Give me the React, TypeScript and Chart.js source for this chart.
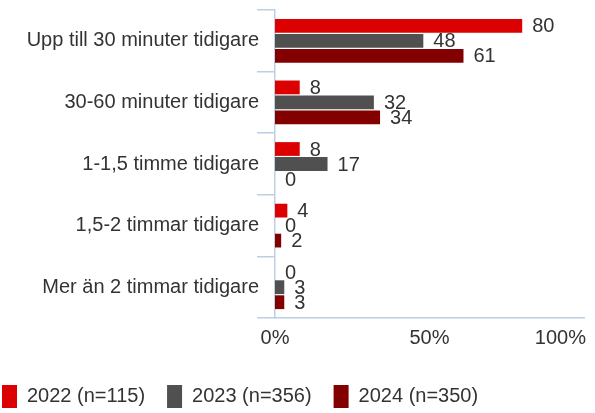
import React, { useEffect, useRef } from "react";
import { Chart, registerables } from "chart.js";

Chart.register(...registerables);

const categories = [
  "Upp till 30 minuter tidigare",
  "30-60 minuter tidigare",
  "1-1,5 timme tidigare",
  "1,5-2 timmar tidigare",
  "Mer än 2 timmar tidigare",
];
const seriesNames = ["2022 (n=115)", "2023 (n=356)", "2024 (n=350)"];
const values2022 = [80, 8, 8, 4, 0];
const values2023 = [48, 32, 17, 0, 3];
const values2024 = [61, 34, 0, 2, 3];
const xTicks = [0, 50, 100];

const FONT = "'Liberation Sans', Arial, sans-serif";
const TEXT = "#333333";
const AXIS = "#BCCFE3";

const valueLabels = {
  id: "valueLabels",
  afterDatasetsDraw(chart: any) {
    const ctx = chart.ctx;
    ctx.save();
    ctx.font = `20px ${FONT}`;
    ctx.fillStyle = TEXT;
    ctx.textAlign = "left";
    ctx.textBaseline = "middle";
    chart.data.datasets.forEach((ds: any, di: number) => {
      const meta = chart.getDatasetMeta(di);
      meta.data.forEach((el: any, i: number) => {
        ctx.fillText(String(ds.data[i]), el.x + 10, el.y + 1);
      });
    });
    ctx.restore();
  },
};

const xLabels = {
  id: "xLabels",
  afterDraw(chart: any) {
    const ctx = chart.ctx;
    const sc = chart.scales.x;
    ctx.save();
    ctx.font = `20px ${FONT}`;
    ctx.fillStyle = TEXT;
    ctx.textBaseline = "middle";
    xTicks.forEach((v) => {
      const t = v + "%";
      const px = sc.getPixelForValue(v);
      const w = ctx.measureText(t).width;
      const maxRight = chart.width - 9;
      if (px + w / 2 > maxRight) {
        ctx.textAlign = "right";
        ctx.fillText(t, maxRight, sc.bottom - sc.height + 20);
      } else {
        ctx.textAlign = "center";
        ctx.fillText(t, px, sc.top + 20);
      }
    });
    ctx.restore();
  },
};

const legendShift = {
  id: "legendShift",
  afterLayout(chart: any) {
    const l = chart.legend;
    if (l) {
      l.left = l.left - 20;
      l.top = 363;
      l.bottom = l.top + l.height;
    }
  },
};

export default function App() {
  const ref = useRef<HTMLCanvasElement>(null);
  useEffect(() => {
    if (!ref.current) return;
    const chart = new Chart(ref.current, {
      type: "bar",
      data: {
        labels: categories,
        datasets: [
          { label: seriesNames[0], data: values2022, backgroundColor: "#DD0000", borderWidth: 0 },
          { label: seriesNames[1], data: values2023, backgroundColor: "#505050", borderWidth: 0 },
          { label: seriesNames[2], data: values2024, backgroundColor: "#820000", borderWidth: 0 },
        ],
      },
      options: {
        indexAxis: "y",
        responsive: false,
        animation: false,
        datasets: { bar: { categoryPercentage: 0.73, barPercentage: 0.92 } },
        layout: { padding: { top: 8, right: 11, bottom: 0, left: 0 } },
        plugins: {
          tooltip: { enabled: false },
          legend: {
            position: "bottom",
            align: "start",
            labels: {
              boxWidth: 15,
              boxHeight: 23,
              padding: 22,
              color: TEXT,
              font: { family: FONT, size: 20 },
            },
          },
        },
        scales: {
          x: {
            min: 0,
            max: 100,
            grid: { display: false },
            border: { display: true, color: AXIS, width: 1.5 },
            ticks: { display: false, stepSize: 50 },
            afterFit(scale: any) {
              const lh = scale.chart.legend ? scale.chart.legend.height : 55;
              scale.height = 413 - 318 - lh;
            },
          },
          y: {
            grid: {
              display: true,
              drawOnChartArea: false,
              offset: true,
              color: AXIS,
              lineWidth: 1.5,
              tickLength: 18,
            },
            border: { display: true, color: AXIS, width: 1.5 },
            ticks: {
              color: TEXT,
              padding: -2,
              font: { family: FONT, size: 20 },
            },
            afterFit(scale: any) {
              scale.width = 275;
            },
          },
        },
      } as any,
      plugins: [valueLabels, xLabels, legendShift],
    });
    return () => chart.destroy();
  }, []);
  return (
    <canvas
      ref={ref}
      width={595}
      height={413}
      style={{ position: "absolute", left: 0, top: 0, display: "block" }}
    />
  );
}
